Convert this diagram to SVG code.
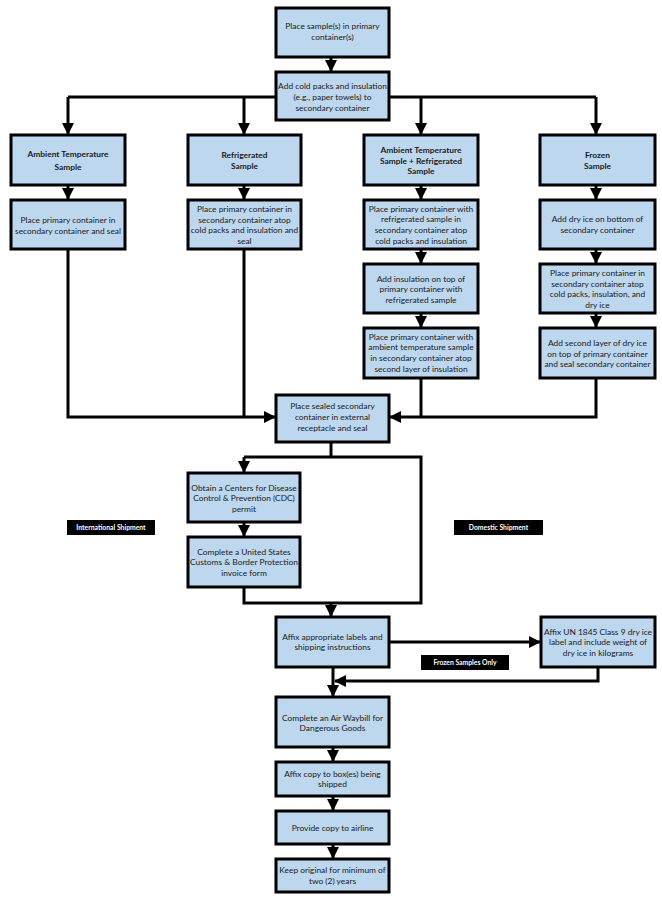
<svg xmlns="http://www.w3.org/2000/svg" width="662" height="900" viewBox="0 0 662 900">
<style>
.b{fill:#BDD7EE;stroke:#000;stroke-width:3}
.t{font-family:Lato,"Liberation Sans",sans-serif;font-size:8.4px;fill:#1a1a1a;text-anchor:middle}
.h{font-weight:bold}
.c{fill:none;stroke:#000;stroke-width:3}
.lb{fill:#000}
.lt{font-family:Lato,"Liberation Sans",sans-serif;font-size:6.8px;font-weight:bold;fill:#fff;text-anchor:middle}
</style>
<defs>
<marker id="a" markerUnits="userSpaceOnUse" markerWidth="12" markerHeight="12" viewBox="0 0 12 12" refX="11" refY="6" orient="auto">
<path d="M0,0 L12,6 L0,12 Z" fill="#000"/>
</marker>
</defs>
<rect width="662" height="900" fill="#fff"/>
<g id="connectors">
<path class="c" d="M331,57 V71" marker-end="url(#a)"/>
<path class="c" d="M68,97 H596"/>
<path class="c" d="M68,97 V134" marker-end="url(#a)"/>
<path class="c" d="M244,97 V134" marker-end="url(#a)"/>
<path class="c" d="M421,97 V134" marker-end="url(#a)"/>
<path class="c" d="M596,97 V134" marker-end="url(#a)"/>
<path class="c" d="M68,185 V199" marker-end="url(#a)"/>
<path class="c" d="M244,185 V199" marker-end="url(#a)"/>
<path class="c" d="M421,185 V199" marker-end="url(#a)"/>
<path class="c" d="M596,185 V199" marker-end="url(#a)"/>
<path class="c" d="M421,249 V263" marker-end="url(#a)"/>
<path class="c" d="M596,249 V263" marker-end="url(#a)"/>
<path class="c" d="M421,313 V327" marker-end="url(#a)"/>
<path class="c" d="M596,313 V327" marker-end="url(#a)"/>
<path class="c" d="M68,249 V417 H275" marker-end="url(#a)"/>
<path class="c" d="M244,249 V417"/>
<path class="c" d="M596,378 V417 H390" marker-end="url(#a)"/>
<path class="c" d="M421,378 V417"/>
<path class="c" d="M331,442 V457"/>
<path class="c" d="M244,457 H421 V603 H244 V587"/>
<path class="c" d="M244,457 V472" marker-end="url(#a)"/>
<path class="c" d="M244,522 V536" marker-end="url(#a)"/>
<path class="c" d="M331,603 V616" marker-end="url(#a)"/>
<path class="c" d="M389,642 H540" marker-end="url(#a)"/>
<path class="c" d="M598,667 V681 H335" marker-end="url(#a)"/>
<path class="c" d="M333,667 V696" marker-end="url(#a)"/>
<path class="c" d="M333,747 V761" marker-end="url(#a)"/>
<path class="c" d="M333,796 V810" marker-end="url(#a)"/>
<path class="c" d="M333,844 V858" marker-end="url(#a)"/>
</g>
<g id="n1"><rect class="b" x="276" y="8" width="113" height="49"/><text class="t" x="332.5" y="29">Place sample(s) in primary</text><text class="t" x="332.5" y="40">container(s)</text></g>
<g id="n2"><rect class="b" x="276" y="72" width="113" height="48"/><text class="t" x="332.5" y="89">Add cold packs and insulation</text><text class="t" x="332.5" y="100">(e.g., paper towels) to</text><text class="t" x="332.5" y="111">secondary container</text></g>
<g id="n3"><rect class="b" x="11" y="135" width="114" height="50"/><text class="t h" x="68" y="157">Ambient Temperature</text><text class="t h" x="68" y="170">Sample</text></g>
<g id="n4"><rect class="b" x="188" y="135" width="113" height="50"/><text class="t h" x="244.5" y="158">Refrigerated</text><text class="t h" x="244.5" y="169">Sample</text></g>
<g id="n5"><rect class="b" x="364" y="135" width="114" height="50"/><text class="t h" x="421" y="153">Ambient Temperature</text><text class="t h" x="421" y="164">Sample + Refrigerated</text><text class="t h" x="421" y="174">Sample</text></g>
<g id="n6"><rect class="b" x="540" y="135" width="115" height="50"/><text class="t h" x="597.5" y="158">Frozen</text><text class="t h" x="597.5" y="169">Sample</text></g>
<g id="n7"><rect class="b" x="11" y="200" width="114" height="49"/><text class="t" x="68" y="223">Place primary container in</text><text class="t" x="68" y="234">secondary container and seal</text></g>
<g id="n8"><rect class="b" x="188" y="200" width="113" height="49"/><text class="t" x="244.5" y="212">Place primary container in</text><text class="t" x="244.5" y="223">secondary container atop</text><text class="t" x="244.5" y="233">cold packs and insulation and</text><text class="t" x="244.5" y="244">seal</text></g>
<g id="n9"><rect class="b" x="364" y="200" width="114" height="49"/><text class="t" x="421" y="212">Place primary container with</text><text class="t" x="421" y="222">refrigerated sample in</text><text class="t" x="421" y="233">secondary container atop</text><text class="t" x="421" y="244">cold packs and insulation</text></g>
<g id="n10"><rect class="b" x="540" y="200" width="115" height="49"/><text class="t" x="597.5" y="222">Add dry ice on bottom of</text><text class="t" x="597.5" y="233">secondary container</text></g>
<g id="n11"><rect class="b" x="364" y="264" width="114" height="49"/><text class="t" x="421" y="282">Add insulation on top of</text><text class="t" x="421" y="292">primary container with</text><text class="t" x="421" y="303">refrigerated sample</text></g>
<g id="n12"><rect class="b" x="540" y="264" width="115" height="49"/><text class="t" x="597.5" y="276">Place primary container in</text><text class="t" x="597.5" y="287">secondary container atop</text><text class="t" x="597.5" y="297">cold packs, insulation, and</text><text class="t" x="597.5" y="308">dry ice</text></g>
<g id="n13"><rect class="b" x="364" y="328" width="114" height="50"/><text class="t" x="421" y="340">Place primary container with</text><text class="t" x="421" y="350">ambient temperature sample</text><text class="t" x="421" y="361">in secondary container atop</text><text class="t" x="421" y="372">second layer of insulation</text></g>
<g id="n14"><rect class="b" x="540" y="328" width="115" height="50"/><text class="t" x="597.5" y="346">Add second layer of dry ice</text><text class="t" x="597.5" y="357">on top of primary container</text><text class="t" x="597.5" y="367">and seal secondary container</text></g>
<g id="n15"><rect class="b" x="276" y="395" width="113" height="47"/><text class="t" x="332.5" y="409">Place sealed secondary</text><text class="t" x="332.5" y="420">container in external</text><text class="t" x="332.5" y="431">receptacle and seal</text></g>
<g id="n16"><rect class="b" x="188" y="473" width="112" height="49"/><text class="t" x="244" y="491">Obtain a Centers for Disease</text><text class="t" x="244" y="501">Control &amp; Prevention (CDC)</text><text class="t" x="244" y="512">permit</text></g>
<g id="n17"><rect class="b" x="188" y="537" width="112" height="50"/><text class="t" x="244" y="555">Complete a United States</text><text class="t" x="244" y="565">Customs &amp; Border Protection</text><text class="t" x="244" y="576">invoice form</text></g>
<g id="l1"><rect class="lb" x="67" y="520" width="88" height="15"/><text class="lt" x="111" y="530">International Shipment</text></g>
<g id="l2"><rect class="lb" x="454" y="520" width="89" height="15"/><text class="lt" x="498.5" y="530">Domestic Shipment</text></g>
<g id="n18"><rect class="b" x="276" y="617" width="113" height="50"/><text class="t" x="332.5" y="640">Affix appropriate labels and</text><text class="t" x="332.5" y="650">shipping instructions</text></g>
<g id="n19"><rect class="b" x="541" y="617" width="114" height="50"/><text class="t" x="598" y="635">Affix UN 1845 Class 9 dry ice</text><text class="t" x="598" y="645">label and include weight of</text><text class="t" x="598" y="656">dry ice in kilograms</text></g>
<g id="l3"><rect class="lb" x="421" y="655" width="88" height="15"/><text class="lt" x="465" y="665">Frozen Samples Only</text></g>
<g id="n20"><rect class="b" x="276" y="697" width="113" height="50"/><text class="t" x="332.5" y="721">Complete an Air Waybill for</text><text class="t" x="332.5" y="731">Dangerous Goods</text></g>
<g id="n21"><rect class="b" x="276" y="762" width="113" height="34"/><text class="t" x="332.5" y="777">Affix copy to box(es) being</text><text class="t" x="332.5" y="787">shipped</text></g>
<g id="n22"><rect class="b" x="276" y="811" width="113" height="33"/><text class="t" x="332.5" y="831">Provide copy to airline</text></g>
<g id="n23"><rect class="b" x="276" y="859" width="113" height="33"/><text class="t" x="332.5" y="873">Keep original for minimum of</text><text class="t" x="332.5" y="884">two (2) years</text></g>
</svg>
